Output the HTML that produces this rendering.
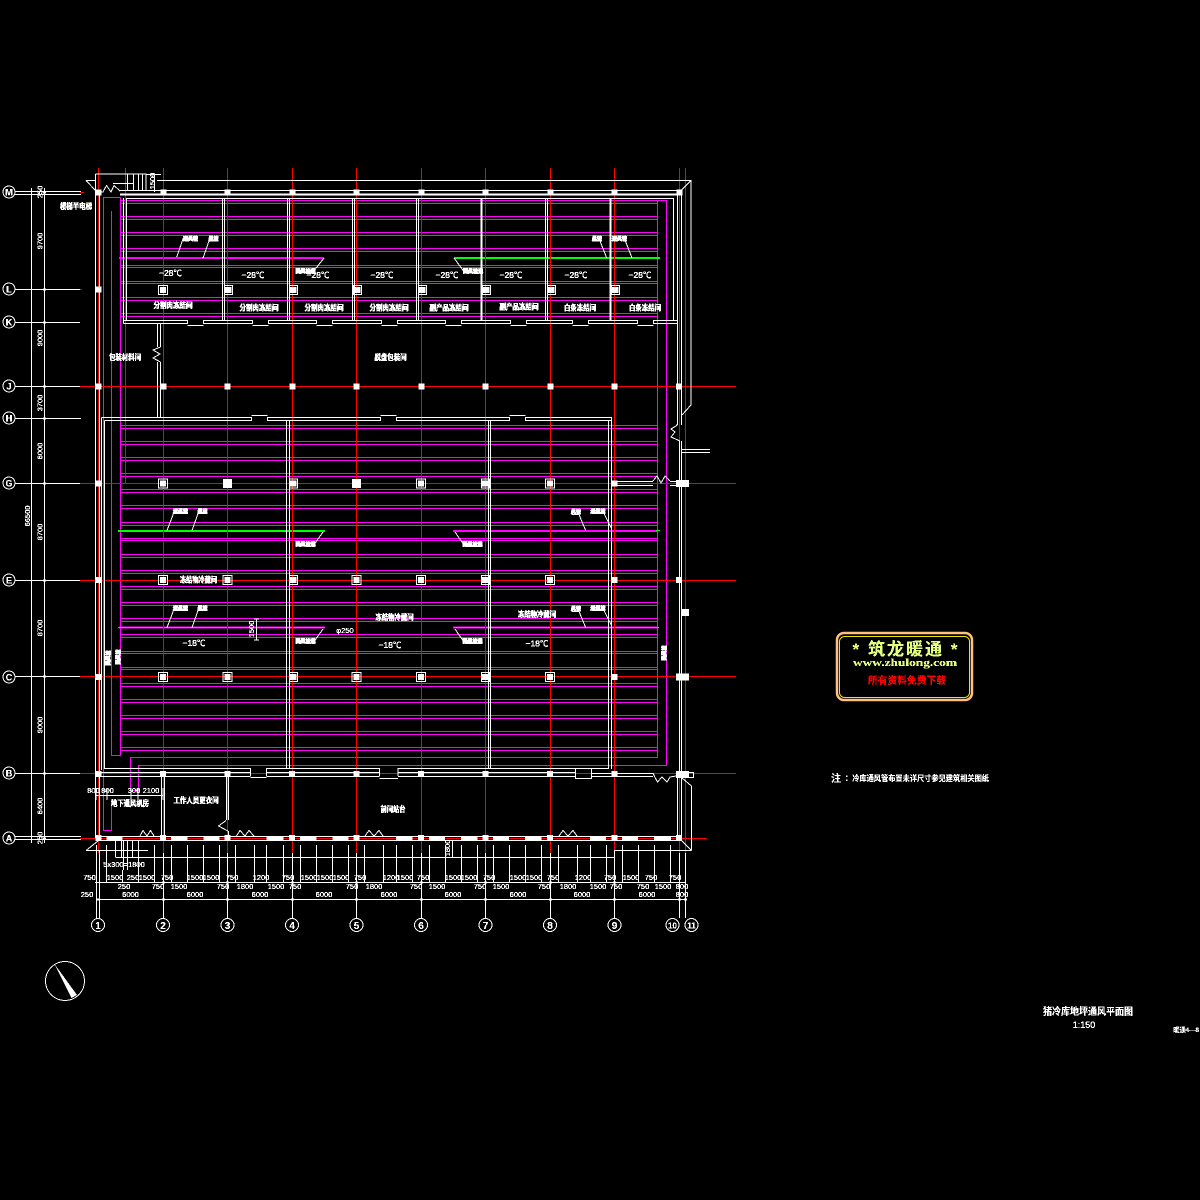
<!DOCTYPE html>
<html lang="zh"><head><meta charset="utf-8"><title>猪冷库地坪通风平面图</title>
<style>
html,body{margin:0;padding:0;background:#000;width:1200px;height:1200px;overflow:hidden}
svg{display:block}
text{font-family:"Liberation Sans","Noto Sans CJK SC",sans-serif;fill:#fff;filter:url(#bin)}
.d{font-size:7.5px;text-anchor:middle;stroke:#fff;stroke-width:.12}
.c{font-size:8px;text-anchor:middle;font-weight:700;stroke:#fff;stroke-width:.3}
.t{font-size:8.5px;text-anchor:middle;stroke:#fff;stroke-width:.15}
.b{font-size:10px;text-anchor:middle;font-weight:700}
.l{font-size:5px;text-anchor:middle;font-weight:700;stroke:#fff;stroke-width:.7}
</style></head><body>
<svg width="1200" height="1200" viewBox="0 0 1200 1200" xmlns="http://www.w3.org/2000/svg">
<defs>
<filter id="bin" x="-20%" y="-30%" width="140%" height="160%" color-interpolation-filters="sRGB"><feComponentTransfer><feFuncA type="discrete" tableValues="0 1 1"/></feComponentTransfer></filter>
<g id="s"><rect x="-3" y="-3" width="6" height="6" fill="#fff"/></g>
<g id="m"><rect x="-4.5" y="-4.5" width="9" height="9" fill="#fff"/></g>
<g id="h"><rect x="-4.5" y="-4.5" width="9" height="9" fill="none" stroke="#fff"/><rect x="-3" y="-3" width="6" height="6" fill="#fff"/></g>
<g id="q"><rect x="-3.5" y="-4.5" width="8" height="9" fill="none" stroke="#fff"/><rect x="-3.5" y="-3" width="7" height="6" fill="#fff"/></g>
</defs>
<rect width="1200" height="1200" fill="#000"/>
<g shape-rendering="crispEdges" fill="none">
<path stroke="#ff00ff" d="M120 200.5H667M120 203.5H658M120 216.5H658M120 219.5H658M120 232.5H658M120 235.5H658M120 248.5H658M120 251.5H658M120 265.5H658M120 267.5H658M120 281.5H658M120 283.5H658M120 297.5H658M120 300.5H658M120 313.5H658M120 316.5H658
M120 425.5H658M120 428.5H658M120 441.5H658M120 444.5H658M120 457.5H658M120 460.5H658M120 473.5H658M120 476.5H658M120 489.5H658M120 492.5H658M120 505.5H658M120 508.5H658M120 522.5H658M120 525.5H658M120 538.5H658M120 540.5H658M120 554.5H658M120 557.5H658M120 570.5H658M120 573.5H658M120 586.5H658M120 589.5H658M120 602.5H658M120 605.5H658M120 618.5H658M120 621.5H658M120 634.5H658M120 637.5H658M120 651.5H658M120 653.5H658M120 667.5H658M120 669.5H658M120 683.5H658M120 686.5H658M120 699.5H658M120 702.5H658M120 715.5H658M120 718.5H658M120 731.5H658M120 734.5H658M120 747.5H658M120 750.5H658
M657.5 200V757.5H130.5V790.5H138.5V765.5H666.5V200.5
M120.5 197.5V755.5H111.5V211M120.5 197.5H103.5V830.5H111.5V800"/>
<path stroke="#ff00ff" stroke-width="2" d="M119 258H324M453 531H658M119 627.5H325M453 627.5H658"/>
<path stroke="#00ff00" stroke-width="2" d="M454 258H660M118 531H325"/>
<path stroke="#00ff00" d="M118 627.5H325M454 627.5H659M656 530.5H660"/>
<path stroke="#ff0000" d="M98.5 168V853M163.5 168V853M227.5 168V853M292.5 168V853M356.5 168V853M421.5 168V853M485.5 168V853M550.5 168V853M614.5 168V853M679.5 168V853M685.5 168V853M125.5 168V483
M80 386.5H736M80 483.5H736M80 580.5H736M80 676.5H736M80 773.5H736M80 838.5H707M80 192.5H84M80 289.5H82"/>
<path stroke="#fff" d="M15 191.5H81M15 194.5H81M15 289.5H80M15 322.5H80M15 386.5H80M15 418.5H81M15 483.5H80M15 580.5H80M15 676.5H80M15 773.5H80M15 836.5H81M15 839.5H81M31.5 188V843M44.5 188V843"/>
<path stroke="#fff" stroke-width="2" d="M43 192.5h3M43 289.5h3M43 322.5h3M43 386.5h3M43 418.5h3M43 483.5h3M43 580.5h3M43 676.5h3M43 773.5h3M43 838.5h3"/>
<path stroke="#fff" d="M95.5 174V838M99.5 195V835M95.5 174H146V190M127.5 174V190M133.5 174V190M138.5 174V190M142.5 174V190M113 183.5H133M146 174.5H161M157 180.5H691V405L682 415M86 180.5H96M86 180.5L96 191M154.5 174V192M120 190.5H679
M123.5 198V323.5M126.5 198V320.5M126.5 198.5H673.5V320.5M677.5 192V425M681.5 192V425M681.5 190L691 180.5
M123.5 320.5H187.5V323.5H123.5M203.5 320.5H252.5V323.5H203.5ZM268.5 320.5H316.5V323.5H268.5ZM332.5 320.5H381.5V323.5H332.5ZM397.5 320.5H445.5V323.5H397.5ZM461.5 320.5H510.5V323.5H461.5ZM526.5 320.5H572.5V323.5H526.5ZM588.5 320.5H637.5V323.5H588.5ZM653.5 320.5H677.5V323.5H653.5Z
M187.5 325.5H203.5M252.5 325.5H268.5M316.5 325.5H332.5M381.5 325.5H397.5M445.5 325.5H461.5M510.5 325.5H526.5M572.5 325.5H588.5M637.5 325.5H653.5
M222.5 198V320M224.5 198V320M287.5 198V320M289.5 198V320M352.5 198V320M354.5 198V320M416.5 198V320M418.5 198V320M545.5 198V320M547.5 198V320
M157.5 323V347M160.5 323V347M157.5 362V417M160.5 362V417
M677.5 425H676M679.5 441V773M681.5 441V773M681 449.5H710M681 452.5H710
M101.5 417.5V770M104.5 420.5V769M286.5 420.5V769M289.5 420.5V769M488.5 420.5V769M490.5 420.5V769M608.5 420.5V769M611.5 417.5V769
M101.5 417.5H251.5V420.5H104.5M267.5 417.5H380.5V420.5H267.5ZM396.5 417.5H509.5V420.5H396.5ZM525.5 417.5H611.5V420.5H525.5Z
M251.5 415.5H267.5M380.5 415.5H396.5M509.5 415.5H525.5
M104 768.5H250.5M266.5 768.5H379.5M398 768.5H575M591.5 768.5H608.5
M96 772.5H250.5M96 776.5H250.5M266.5 772.5H379.5M266.5 776.5H379.5M398 772.5H575M398 776.5H575M591.5 773.5H653M591.5 776.5H653M250.5 768V776M266.5 768V776M379.5 768V776M398 768V776M250.5 777.5H266.5M379.5 778.5H398M575.5 768.5H591.5V778.5H575.5Z
M676 772.5H693.5V777.5H676M677.5 777V835M681.5 777V835M691.5 786V850.5M614 850.5H691.5
M614.5 481.5H653M614.5 485.5H653M670 481.5H676M670 485.5H676
M161.5 776V836M164.5 776V836M226.5 776V820M228.5 776V820M228.5 831V836
M96 836.5H679M96 840.5H679M96 795.5H163M131 788V800M96 788V800M107 788V800M138 788V800M163 788V800"/>
<path stroke="#fff" stroke-width="2" d="M481.5 198V320M610.5 198V320M120 194.5H677"/>
<path stroke="#fff" stroke-width="3" d="M106.5 838.5H122.5M171 838.5H187.5M203.5 838.5H219.5M266.5 838.5H283.5M300 838.5H316.5M332.5 838.5H348.5M396 838.5H412.5M429 838.5H445M461 838.5H477.5M493 838.5H509M525 838.5H541.5M590 838.5H606M622 838.5H638M654 838.5H671"/>
<path stroke="#fff" d="M86 850.5H148M115.5 840V857M121.5 840V857M123.5 840V870M127.5 840V870M132.5 840V857M138.5 840V870M115.5 857.5H614.5V850M96.5 845V882M106.5 845V882M122.5 870V882M138.5 870V882M154.5 845V882M171.5 845V882M187.5 845V882M203.5 845V882M219.5 845V882M235.5 845V882M254.5 845V882M266.5 845V882M283.5 845V882M300.5 845V882M316.5 845V882M332.5 845V882M348.5 845V882M364.5 845V882M383.5 845V882M396.5 845V882M412.5 845V882M429.5 845V882M445.5 845V882M461.5 845V882M477.5 845V882M493.5 845V882M509.5 845V882M525.5 845V882M541.5 845V882M558.5 845V882M577.5 845V882M590.5 845V882M606.5 845V882M622.5 845V882M638.5 845V882M654.5 845V882M670.5 845V882
M95 882.5H686M96 899.5H686
M96.5 850V918M99.5 850V918M163.5 853V918M227.5 853V918M292.5 853V918M356.5 853V918M421.5 853V918M485.5 853V918M550.5 853V918M614.5 853V918M679.5 853V918M685.5 853V918M452.5 840V858"/>
<path stroke="#fff" stroke-width="2" d="M96 899.5h4M162 899.5h3M226 899.5h3M291 899.5h3M355 899.5h3M420 899.5h3M484 899.5h3M549 899.5h3M613 899.5h3M678 899.5h3M684 899.5h3M162 882.5h3M226 882.5h3M291 882.5h3M355 882.5h3M420 882.5h3M484 882.5h3M549 882.5h3M613 882.5h3"/>
</g>
<g fill="none" stroke="#fff" stroke-width="1" shape-rendering="crispEdges">
<path d="M86 850.5L98 841M682 778L691.5 786M682 841L691.5 850.5"/>
<path d="M96 191L103 192L106.5 185.5L111 192L114 185.5L120 191"/>
<path d="M140 836L143 830.5L147 836L150.5 830.5L154 836M236.5 836L240 830.5L245 836L249 830.5L254 836M365 836L369 830.5L374 836L379 830.5L383 836M559 836L563 830.5L568 836L573 830.5L577 836"/>
<path d="M653 773L655 777.5L657.5 782L662 777L667 782L670 777L676 776M653 481L657 476L661 483L665 476L670 481"/>
<path d="M160.5 347L153 350L160 354L153 358L160.5 362M677.5 425L671 429L675 432L671 437L680 441M226 820.5L218.5 826L228 831"/>
<path d="M176.7 257L183 239H196M203 258L209 241H217M324 258L313 272H298M454 258L465 273H480M606.7 258L600 241H593M632 258L625 240H613"/>
<path d="M167 530.5L173.5 513.5H186M192 530.5L198 513.5H207M323 532L313 546H298M455 532L465 546.5H480M585.7 530.5L579 514.5H572M611.7 529L604 513.5H592"/>
<path d="M167 627.5L173.5 610.5H186M192 627.5L198 610.5H207M323 629L313 643H298M455 629L465 643.5H480M585.7 627.5L579 611.5H572M611.7 626L604 610.5H592"/>
<path d="M256.5 619V640M254 619h5M254 640h5"/>
<circle cx="9" cy="192" r="6"/><circle cx="9" cy="289" r="6"/><circle cx="9" cy="322" r="6"/><circle cx="9" cy="386" r="6"/><circle cx="9" cy="418" r="6"/><circle cx="9" cy="483" r="6"/><circle cx="9" cy="580" r="6"/><circle cx="9" cy="677" r="6"/><circle cx="9" cy="773" r="6"/><circle cx="9" cy="838" r="6"/>
<circle cx="98" cy="925" r="6.5"/><circle cx="163" cy="925" r="6.5"/><circle cx="227.5" cy="925" r="6.5"/><circle cx="292" cy="925" r="6.5"/><circle cx="356.5" cy="925" r="6.5"/><circle cx="421" cy="925" r="6.5"/><circle cx="485.5" cy="925" r="6.5"/><circle cx="550" cy="925" r="6.5"/><circle cx="614.5" cy="925" r="6.5"/><circle cx="672.5" cy="925" r="6.5"/><circle cx="691.5" cy="925" r="6.5"/>
<circle cx="65" cy="981" r="19.5"/>
</g>
<path d="M54.5 964L71.5 998L77 995Z" fill="#fff" shape-rendering="crispEdges"/>
<g shape-rendering="crispEdges">
<use href="#s" x="98.5" y="192.5"/><use href="#s" x="163.5" y="192.5"/><use href="#s" x="227.5" y="192.5"/><use href="#s" x="292.5" y="192.5"/><use href="#s" x="356.5" y="192.5"/><use href="#s" x="421.5" y="192.5"/><use href="#s" x="485.5" y="192.5"/><use href="#s" x="550.5" y="192.5"/><use href="#s" x="614.5" y="192.5"/><use href="#s" x="679.5" y="192.5"/>
<use href="#s" x="98.5" y="289.5"/><use href="#h" x="163" y="290"/><use href="#q" x="228" y="290"/><use href="#q" x="293" y="290"/><use href="#q" x="357" y="290"/><use href="#q" x="422" y="290"/><use href="#q" x="486" y="290"/><use href="#q" x="551" y="290"/><use href="#q" x="615" y="290"/>
<use href="#s" x="98.5" y="386.5"/><use href="#s" x="163.5" y="386.5"/><use href="#s" x="227.5" y="386.5"/><use href="#s" x="292.5" y="386.5"/><use href="#s" x="356.5" y="386.5"/><use href="#s" x="421.5" y="386.5"/><use href="#s" x="485.5" y="386.5"/><use href="#s" x="550.5" y="386.5"/><use href="#s" x="614.5" y="386.5"/><use href="#s" x="679" y="386.5"/>
<use href="#s" x="98.5" y="483.5"/><use href="#h" x="163" y="483.5"/><use href="#m" x="227.5" y="483.5"/><use href="#q" x="293" y="483.5"/><use href="#m" x="356.5" y="483.5"/><use href="#h" x="421" y="483.5"/><use href="#q" x="485" y="483.5"/><use href="#h" x="550" y="483.5"/><use href="#s" x="614.5" y="483.5"/>
<rect x="676" y="480" width="13" height="7" fill="#fff"/>
<use href="#s" x="98.5" y="580"/><use href="#h" x="163" y="580"/><use href="#h" x="227.5" y="580"/><use href="#q" x="293" y="580"/><use href="#h" x="356.5" y="580"/><use href="#h" x="421" y="580"/><use href="#q" x="485" y="580"/><use href="#h" x="550" y="580"/><use href="#s" x="614.5" y="580"/><use href="#s" x="679" y="580"/>
<rect x="681.5" y="609" width="7.5" height="7" fill="#fff"/>
<use href="#s" x="98.5" y="677"/><use href="#h" x="163" y="677"/><use href="#h" x="227.5" y="677"/><use href="#q" x="293" y="677"/><use href="#h" x="356.5" y="677"/><use href="#h" x="421" y="677"/><use href="#q" x="485" y="677"/><use href="#h" x="550" y="677"/><use href="#s" x="614.5" y="677"/>
<rect x="676" y="673.5" width="13" height="7" fill="#fff"/>
<use href="#s" x="98.5" y="774"/><use href="#s" x="163" y="774"/><use href="#s" x="227.5" y="774"/><use href="#s" x="292" y="774"/><use href="#s" x="356.5" y="774"/><use href="#s" x="421" y="774"/><use href="#s" x="485.5" y="774"/><use href="#s" x="550" y="774"/><use href="#s" x="614.5" y="774"/>
<rect x="676" y="771" width="13" height="6" fill="#fff"/>
<use href="#s" x="98.5" y="838"/><use href="#s" x="163" y="838"/><use href="#s" x="227.5" y="838"/><use href="#s" x="292" y="838"/><use href="#s" x="356.5" y="838"/><use href="#s" x="421" y="838"/><use href="#s" x="485.5" y="838"/><use href="#s" x="550" y="838"/><use href="#s" x="614.5" y="838"/><use href="#s" x="679" y="838"/>
</g>
<g>
<text class="b" x="9" y="195.5" style="font-size:9px">M</text><text class="b" x="9" y="292.5" style="font-size:9px">L</text><text class="b" x="9" y="325.5" style="font-size:9px">K</text><text class="b" x="9" y="389.5" style="font-size:9px">J</text><text class="b" x="9" y="421.5" style="font-size:9px">H</text><text class="b" x="9" y="486.5" style="font-size:9px">G</text><text class="b" x="9" y="583.5" style="font-size:9px">E</text><text class="b" x="9" y="680.5" style="font-size:9px">C</text><text class="b" x="9" y="776.5" style="font-size:9px">B</text><text class="b" x="9" y="841.5" style="font-size:9px">A</text>
<text class="b" x="98" y="929">1</text><text class="b" x="163" y="929">2</text><text class="b" x="227.5" y="929">3</text><text class="b" x="292" y="929">4</text><text class="b" x="356.5" y="929">5</text><text class="b" x="421" y="929">6</text><text class="b" x="485.5" y="929">7</text><text class="b" x="550" y="929">8</text><text class="b" x="614.5" y="929">9</text><text class="b" x="672.5" y="928.5" style="font-size:8px">10</text><text class="b" x="691.5" y="928.5" style="font-size:8px">11</text>
</g>
<g>
<text class="d" x="42.5" y="192" transform="rotate(-90 42.5 192)">250</text>
<text class="d" x="42.5" y="241" transform="rotate(-90 42.5 241)">9700</text>
<text class="d" x="42.5" y="338" transform="rotate(-90 42.5 338)">9000</text>
<text class="d" x="42.5" y="403" transform="rotate(-90 42.5 403)">3700</text>
<text class="d" x="42.5" y="451" transform="rotate(-90 42.5 451)">6000</text>
<text class="d" x="42.5" y="532" transform="rotate(-90 42.5 532)">8700</text>
<text class="d" x="42.5" y="628" transform="rotate(-90 42.5 628)">8700</text>
<text class="d" x="42.5" y="725" transform="rotate(-90 42.5 725)">9000</text>
<text class="d" x="42.5" y="806" transform="rotate(-90 42.5 806)">6400</text>
<text class="d" x="42.5" y="838" transform="rotate(-90 42.5 838)">250</text>
<text class="d" x="30" y="516" transform="rotate(-90 30 516)">66500</text>
<text class="d" x="155" y="181" transform="rotate(-90 155 181)">1500</text>
<text class="d" x="450" y="848" transform="rotate(-90 450 848)">1800</text>
<text class="d" x="254" y="629" transform="rotate(-90 254 629)">1500</text>
<text class="d" x="345" y="633">φ250</text>
<text class="l" x="110" y="658" transform="rotate(-90 110 658)">回风管</text>
<text class="l" x="120" y="657" transform="rotate(-90 120 657)">回风管</text>
<text class="l" x="666" y="653" transform="rotate(-90 666 653)">回风管</text>
</g>
<g>
<text class="d" x="89.5" y="880">750</text><text class="d" x="115" y="880">1500</text><text class="d" x="133" y="880">250</text><text class="d" x="147" y="880">1500</text><text class="d" x="167" y="880">750</text><text class="d" x="195" y="880">1500</text><text class="d" x="211" y="880">1500</text><text class="d" x="232" y="880">750</text><text class="d" x="261" y="880">1200</text><text class="d" x="288" y="880">750</text><text class="d" x="309" y="880">1500</text><text class="d" x="325" y="880">1500</text><text class="d" x="341" y="880">1500</text><text class="d" x="360" y="880">750</text><text class="d" x="391" y="880">1200</text><text class="d" x="405" y="880">1500</text><text class="d" x="423" y="880">750</text><text class="d" x="453" y="880">1500</text><text class="d" x="469" y="880">1500</text><text class="d" x="489" y="880">750</text><text class="d" x="518" y="880">1500</text><text class="d" x="534" y="880">1500</text><text class="d" x="553" y="880">750</text><text class="d" x="583" y="880">1200</text><text class="d" x="610" y="880">750</text><text class="d" x="631" y="880">1500</text><text class="d" x="651" y="880">750</text><text class="d" x="675" y="880">750</text>
<text class="d" x="124" y="889">250</text><text class="d" x="158" y="889">750</text><text class="d" x="179" y="889">1500</text><text class="d" x="223" y="889">750</text><text class="d" x="245" y="889">1800</text><text class="d" x="276" y="889">1500</text><text class="d" x="295" y="889">750</text><text class="d" x="352" y="889">750</text><text class="d" x="374" y="889">1800</text><text class="d" x="416" y="889">750</text><text class="d" x="437" y="889">1500</text><text class="d" x="480" y="889">750</text><text class="d" x="501" y="889">1500</text><text class="d" x="544" y="889">750</text><text class="d" x="568" y="889">1800</text><text class="d" x="598" y="889">1500</text><text class="d" x="616" y="889">750</text><text class="d" x="643" y="889">750</text><text class="d" x="663" y="889">1500</text><text class="d" x="682" y="889">800</text>
<text class="d" x="87" y="897">250</text><text class="d" x="130.5" y="897">6000</text><text class="d" x="195" y="897">6000</text><text class="d" x="260" y="897">6000</text><text class="d" x="324" y="897">6000</text><text class="d" x="389" y="897">6000</text><text class="d" x="453" y="897">6000</text><text class="d" x="518" y="897">6000</text><text class="d" x="582" y="897">6000</text><text class="d" x="647" y="897">6000</text><text class="d" x="682" y="897">800</text>
<text class="d" x="124" y="867">5x300=1800</text>
<text class="d" x="93.5" y="793">800</text><text class="d" x="107.5" y="793">800</text><text class="d" x="134" y="793">300</text><text class="d" x="151" y="793">2100</text>
</g>
<g>
<text class="c" x="76" y="209" textLength="32" lengthAdjust="spacingAndGlyphs">楼梯半电梯</text>
<text class="c" x="173" y="308" textLength="39" lengthAdjust="spacingAndGlyphs">分割肉冻结间</text>
<text class="c" x="259" y="310.5" textLength="39" lengthAdjust="spacingAndGlyphs">分割肉冻结间</text>
<text class="c" x="324" y="310.5" textLength="39" lengthAdjust="spacingAndGlyphs">分割肉冻结间</text>
<text class="c" x="389" y="310.5" textLength="39" lengthAdjust="spacingAndGlyphs">分割肉冻结间</text>
<text class="c" x="449" y="310.5" textLength="39" lengthAdjust="spacingAndGlyphs">副产品冻结间</text>
<text class="c" x="519" y="309.5" textLength="39" lengthAdjust="spacingAndGlyphs">副产品冻结间</text>
<text class="c" x="580" y="310.5" textLength="32" lengthAdjust="spacingAndGlyphs">白条冻结间</text>
<text class="c" x="645" y="310.5" textLength="32" lengthAdjust="spacingAndGlyphs">白条冻结间</text>
<text class="c" x="125" y="360" textLength="32" lengthAdjust="spacingAndGlyphs">包装材料间</text>
<text class="c" x="390.5" y="360" textLength="32" lengthAdjust="spacingAndGlyphs">脱盘包装间</text>
<text class="c" x="198.5" y="582.5" textLength="37" lengthAdjust="spacingAndGlyphs">冻结物冷藏间</text>
<text class="c" x="394.5" y="620" textLength="38" lengthAdjust="spacingAndGlyphs">冻结物冷藏间</text>
<text class="c" x="537" y="617" textLength="38" lengthAdjust="spacingAndGlyphs">冻结物冷藏间</text>
<text class="c" x="393" y="812" textLength="25" lengthAdjust="spacingAndGlyphs">前间站台</text>
<text class="c" x="130" y="806" textLength="38" lengthAdjust="spacingAndGlyphs">地下通风机房</text>
<text class="c" x="196" y="803" textLength="45" lengthAdjust="spacingAndGlyphs">工作人员更衣间</text>
<text class="t" x="170.5" y="276">−28℃</text><text class="t" x="253" y="278">−28℃</text><text class="t" x="318" y="278">−28℃</text><text class="t" x="382" y="278">−28℃</text><text class="t" x="447" y="278">−28℃</text><text class="t" x="511" y="278">−28℃</text><text class="t" x="576" y="278">−28℃</text><text class="t" x="640" y="278">−28℃</text>
<text class="t" x="194" y="646">−18℃</text><text class="t" x="390" y="648">−18℃</text><text class="t" x="537" y="646.5">−18℃</text>
<text class="l" x="190.5" y="240.5">送风管</text><text class="l" x="213.5" y="240.5">风管</text><text class="l" x="305.5" y="273">回风管道</text><text class="l" x="473" y="273">回风管道</text><text class="l" x="597" y="240.5">风管</text><text class="l" x="619.5" y="240.5">送风管</text>
<text class="l" x="180.5" y="513">送风管</text><text class="l" x="202.5" y="513">风管</text><text class="l" x="305.5" y="546">回风管道</text><text class="l" x="472.5" y="546">回风管道</text><text class="l" x="576" y="513.5">风管</text><text class="l" x="598" y="513">送风管</text>
<text class="l" x="180.5" y="610">送风管</text><text class="l" x="202.5" y="610">风管</text><text class="l" x="305.5" y="643">回风管道</text><text class="l" x="472.5" y="643">回风管道</text><text class="l" x="576" y="610.5">风管</text><text class="l" x="598" y="610">送风管</text>
</g>
<rect x="837" y="633" width="135" height="67" rx="7" fill="none" stroke="#ffc080" stroke-width="2.5"/>
<rect x="839.5" y="636.5" width="130" height="61" rx="5" fill="none" stroke="#e8e800"/>
<text x="905" y="655" text-anchor="middle" style="font-size:17px;font-weight:700;fill:#e4ff80" textLength="105" lengthAdjust="spacing">* 筑龙暖通 *</text>
<text x="905" y="666" text-anchor="middle" style="font-size:11px;font-weight:700;fill:#e4ff80;font-family:'Liberation Serif',serif" textLength="104" lengthAdjust="spacingAndGlyphs">www.zhulong.com</text>
<text x="907" y="684" text-anchor="middle" style="font-size:10px;font-weight:700;fill:#ff0000" textLength="78" lengthAdjust="spacingAndGlyphs">所有资料免费下载</text>
<text x="831" y="782" style="font-size:10px;font-weight:700">注</text>
<text x="845" y="781" style="font-size:8px;font-weight:700" textLength="144" lengthAdjust="spacingAndGlyphs">：冷库通风管布置未详尺寸参见建筑相关图纸</text>
<text x="1043" y="1015" style="font-size:10px;font-weight:700" textLength="90" lengthAdjust="spacingAndGlyphs">猪冷库地坪通风平面图</text>
<text x="1084" y="1028" class="d" style="font-size:9px">1:150</text>
<text x="1173" y="1032" style="font-size:6.5px;font-weight:700" textLength="26" lengthAdjust="spacingAndGlyphs">暖通4—8</text>
</svg>
</body></html>
